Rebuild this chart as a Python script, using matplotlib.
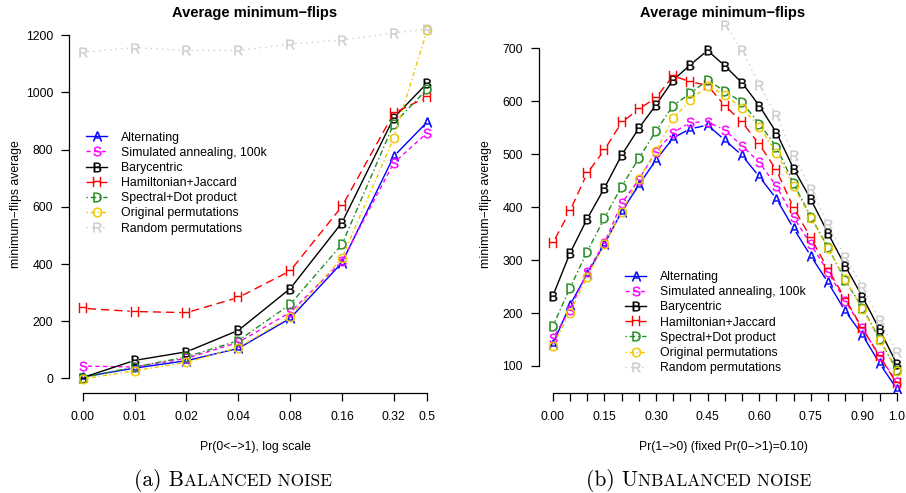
import numpy as np
import matplotlib
matplotlib.use('Agg')
import matplotlib.pyplot as plt
from matplotlib.lines import Line2D

plt.rcParams['font.family'] = ['Liberation Sans', 'DejaVu Sans']
plt.rcParams['mathtext.fontset'] = 'custom'
plt.rcParams['mathtext.rm'] = 'Liberation Sans'

series_names = ["Alternating", "Simulated annealing, 100k", "Barycentric",
                "Hamiltonian+Jaccard", "Spectral+Dot product",
                "Original permutations", "Random permutations"]
letters = ["A", "S", "B", "H", "D", "O", "R"]
colors = ["#0000FF", "#FF00FF", "#000000", "#FF0000", "#228B22", "#EEC900", "#CCCCCC"]
styles = ["-", (0, (3, 2.5)), "-", (0, (6, 3.5)), (0, (1, 2, 4, 2)), (0, (1, 2, 3, 2)), (0, (1, 3))]

# (a) Balanced noise
bal_p = [0.00, 0.01, 0.02, 0.04, 0.08, 0.16, 0.32, 0.5]
bal_labels = ["0.00", "0.01", "0.02", "0.04", "0.08", "0.16", "0.32", "0.5"]
bal_A = [5, 36, 62, 105, 210, 405, 777, 897]
bal_S = [43, 40, 70, 126, 231, 410, 754, 859]
bal_B = [3, 63, 93, 168, 314, 545, 912, 1033]
bal_H = [245, 234, 230, 283, 376, 602, 928, 984]
bal_D = [3, 40, 75, 132, 259, 469, 891, 1012]
bal_O = [-2, 27, 56, 108, 216, 422, 841, 1219]
bal_R = [1141, 1157, 1147, 1147, 1169, 1184, 1208, 1222]

# (b) Unbalanced noise
unb_p = [0.00, 0.05, 0.10, 0.15, 0.20, 0.25, 0.30, 0.35, 0.40, 0.45, 0.50,
         0.55, 0.60, 0.65, 0.70, 0.75, 0.80, 0.85, 0.90, 0.95, 1.00]
unb_tick_labels = {0.00: "0.00", 0.15: "0.15", 0.30: "0.30", 0.45: "0.45",
                   0.60: "0.60", 0.75: "0.75", 0.90: "0.90", 1.00: "1.0"}
unb_A = [141, 215, 274, 330, 391, 442, 489, 531, 548, 555, 527, 498, 458, 416, 360, 308, 258, 204, 159, 105, 57]
unb_S = [152, 206, 278, 332, 407, 452, 505, 541, 560, 561, 546, 516, 485, 440, 381, 330, 278, 223, 171, 118, 70]
unb_B = [232, 313, 378, 436, 498, 549, 593, 640, 669, 696, 667, 635, 592, 541, 473, 415, 351, 289, 231, 169, 104]
unb_H = [332, 393, 464, 508, 560, 585, 607, 648, 637, 630, 592, 561, 519, 470, 399, 342, 283, 227, 171, 119, 67]
unb_D = [175, 247, 316, 379, 439, 492, 544, 592, 615, 640, 619, 598, 558, 514, 445, 382, 324, 262, 210, 151, 92]
unb_O = [138, 201, 269, 330, 391, 453, 506, 568, 602, 629, 612, 588, 552, 503, 440, 380, 322, 264, 208, 150, 91]
nan = np.nan
unb_R = [nan, nan, nan, nan, nan, nan, nan, nan, nan, nan, 745, 697, 631, 574, 498, 434, 369, 306, 250, 187, 126]

W, H = 906, 493
fig = plt.figure(figsize=(W / 100, H / 100), dpi=100)


def rect(x0, y0, x1, y1):
    return [x0 / W, 1 - y1 / H, (x1 - x0) / W, (y1 - y0) / H]


def fx(x):
    return x / W


def fy(y):
    return 1 - y / H


FS = 8.8
MS = 6.8
MEW = 0.3
GAP = 5.0


def draw_series(ax, x, y, color, ls, letter):
    x = np.asarray(x, float)
    y = np.asarray(y, float)
    disp = ax.transData.transform(np.column_stack([x, y]))
    inv = ax.transData.inverted()
    xs, ys = [], []
    for i in range(len(x) - 1):
        if np.isnan(y[i]) or np.isnan(y[i + 1]):
            continue
        p0, p1 = disp[i], disp[i + 1]
        d = p1 - p0
        L = np.hypot(*d)
        if L <= 2 * GAP:
            continue
        u = d / L
        q0 = inv.transform(p0 + u * GAP)
        q1 = inv.transform(p1 - u * GAP)
        xs += [q0[0], q1[0], np.nan]
        ys += [q0[1], q1[1], np.nan]
    ax.plot(xs, ys, color=color, ls=ls, lw=1.0, dash_capstyle='butt')
    ax.plot(x, y, ls='none', marker=r'$\mathrm{%s}$' % letter, ms=MS, mew=MEW,
            color=color)


def style_axes(ax):
    for s in ['top', 'right']:
        ax.spines[s].set_visible(False)
    for s in ['left', 'bottom']:
        ax.spines[s].set_linewidth(0.9)
    ax.tick_params(axis='both', direction='out', length=6, width=0.9,
                   labelsize=FS, colors='black')
    ax.tick_params(axis='x', pad=7)
    ax.tick_params(axis='y', pad=5.5)


def make_legend(ax, x_px, y_px):
    handles = [Line2D([], [], color=c, ls=ls, lw=1.0,
                      marker=r'$\mathrm{%s}$' % l, ms=MS, mew=MEW)
               for c, ls, l in zip(colors, styles, letters)]
    leg = ax.legend(handles, series_names, loc='upper left',
                    bbox_to_anchor=(fx(x_px), fy(y_px)),
                    bbox_transform=fig.transFigure, frameon=False,
                    fontsize=FS, handlelength=1.75, handletextpad=1.1,
                    labelspacing=0.26, borderpad=0, borderaxespad=0)
    return leg


# ---------- Panel (a) ----------
ax1 = fig.add_axes(rect(69, 15, 441, 393))
bal_x = [p if p > 0 else 0.005 for p in bal_p]
ax1.set_xscale('log')
span = (0.5 / 0.005) ** 0.04
ax1.set_xlim(0.005 / span, 0.5 * span)
ax1.set_ylim(-51, 1271)
ax1.set_xticks(bal_x)
ax1.set_xticklabels(bal_labels)
ax1.xaxis.set_minor_locator(matplotlib.ticker.NullLocator())
ax1.set_yticks([0, 200, 400, 600, 800, 1000, 1200])
ax1.spines['left'].set_bounds(0, 1200)
ax1.spines['bottom'].set_bounds(bal_x[0], bal_x[-1])
style_axes(ax1)
for ys, c, ls, l in zip([bal_A, bal_S, bal_B, bal_H, bal_D, bal_O, bal_R],
                        colors, styles, letters):
    draw_series(ax1, bal_x, ys, c, ls, l)
make_legend(ax1, 86, 131.5)
fig.text(fx(255), fy(12.5), "Average minimum\u2212flips", ha='center', va='center',
         fontsize=10.5, fontweight='bold')
fig.text(fx(255), fy(447), "Pr(0<\u2212>1), log scale", ha='center', va='center',
         fontsize=FS)
fig.text(fx(16.5), fy(204), "minimum\u2212flips average", ha='center', va='center',
         rotation=90, fontsize=FS)

# ---------- Panel (b) ----------
ax2 = fig.add_axes(rect(539, 15, 539 + 344 * 1.08, 393))
ax2.set_xlim(-0.04, 1.04)
ax2.set_ylim(49, 763)
ax2.set_xticks(unb_p)
ax2.set_xticklabels([unb_tick_labels.get(round(p, 2), "") for p in unb_p])
ax2.set_yticks([100, 200, 300, 400, 500, 600, 700])
ax2.spines['left'].set_bounds(100, 700)
ax2.spines['bottom'].set_bounds(unb_p[0], unb_p[-1])
style_axes(ax2)
for ys, c, ls, l in zip([unb_A, unb_S, unb_B, unb_H, unb_D, unb_O, unb_R],
                        colors, styles, letters):
    draw_series(ax2, unb_p, ys, c, ls, l)
make_legend(ax2, 625, 271)
fig.text(fx(723), fy(12.5), "Average minimum\u2212flips", ha='center', va='center',
         fontsize=10.5, fontweight='bold')
fig.text(fx(723), fy(447), "Pr(1\u2212>0) (fixed Pr(0\u2212>1)=0.10)", ha='center',
         va='center', fontsize=FS)
fig.text(fx(486.5), fy(204), "minimum\u2212flips average", ha='center', va='center',
         rotation=90, fontsize=FS)

# ---------- Captions (small caps emulation) ----------
fig.canvas.draw()
renderer = fig.canvas.get_renderer()


def caption(cx_px, base_px, parts):
    texts = []
    widths = []
    for s, size in parts:
        t = fig.text(0, fy(base_px), s, fontsize=size, family='cmr10',
                     va='baseline', ha='left')
        widths.append(t.get_window_extent(renderer).width)
        texts.append(t)
    x = cx_px - sum(widths) / 2
    for t, w in zip(texts, widths):
        t.set_x(fx(x))
        x += w


caption(233, 486.5, [("(a) B", 15.5), ("ALANCED NOISE", 12.5)])
caption(698.5, 486.5, [("(b) U", 15.5), ("NBALANCED NOISE", 12.5)])

fig.savefig("out.png", dpi=100)
